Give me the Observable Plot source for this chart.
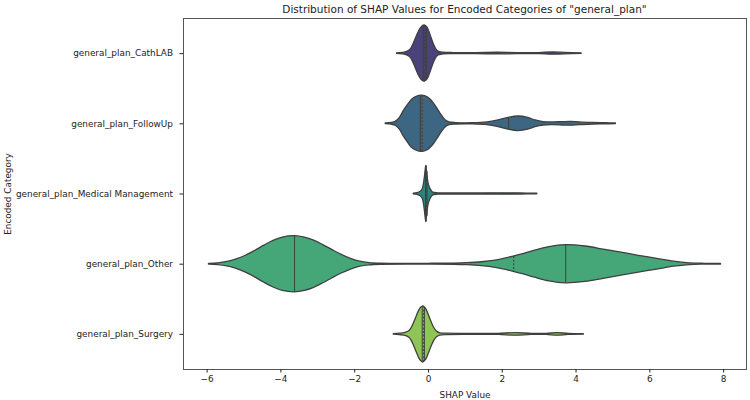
<!DOCTYPE html>
<html>
<head>
<meta charset="utf-8">
<script src="https://cdn.jsdelivr.net/npm/d3@7"></script>
<script src="https://cdn.jsdelivr.net/npm/@observablehq/plot@0.6"></script>
<style>
  body { margin: 0; background: #fff; font-family: "DejaVu Sans", sans-serif; }
  #title { height: 16px; line-height: 19px; margin-left: 183px; width: 563px; text-align: center;
           font-size: 10.5px; color: #222; white-space: nowrap; }
</style>
</head>
<body>
<div id="title">Distribution of SHAP Values for Encoded Categories of "general_plan"</div>
<div id="chart"></div>
<script>
// Encoded categories, top to bottom
const categories = [
  "general_plan_CathLAB",
  "general_plan_FollowUp",
  "general_plan_Medical Management",
  "general_plan_Other",
  "general_plan_Surgery"
];

// Kernel density profiles per category: [SHAP value, relative density (peak = 1)]
const densityCathLAB = [
  [-0.85,0.01],[-0.7,0.025],[-0.58,0.06],[-0.48,0.15],[-0.4,0.35],[-0.32,0.6],[-0.24,0.83],
  [-0.17,0.96],[-0.10,1.0],[-0.03,0.93],[0.04,0.72],[0.12,0.42],[0.2,0.18],[0.27,0.07],
  [0.4,0.03],[0.7,0.02],[1.3,0.02],[1.87,0.03],[2.4,0.02],[3.0,0.02],[3.37,0.04],[3.7,0.025],[4.15,0.01]
];
const densityFollowUp = [
  [-1.16,0.01],[-1.0,0.03],[-0.89,0.07],[-0.78,0.2],[-0.67,0.45],[-0.55,0.68],[-0.45,0.85],
  [-0.32,0.96],[-0.17,1.0],[-0.02,0.94],[0.15,0.72],[0.27,0.48],[0.37,0.28],[0.47,0.12],
  [0.57,0.05],[0.75,0.025],[1.2,0.02],[1.6,0.05],[1.9,0.12],[2.17,0.21],[2.44,0.26],[2.7,0.21],
  [2.9,0.12],[3.12,0.06],[3.4,0.05],[3.65,0.06],[3.86,0.065],[4.1,0.05],[4.45,0.03],[4.8,0.02],[5.08,0.01]
];
const densityMedical = [
  [-0.40,0.01],[-0.3,0.03],[-0.21,0.08],[-0.16,0.16],[-0.12,0.38],[-0.08,0.8],[-0.06,1.0],
  [-0.04,0.8],[0.0,0.4],[0.04,0.22],[0.09,0.1],[0.13,0.05],[0.25,0.025],[0.8,0.02],[1.5,0.02],
  [2.0,0.025],[2.5,0.02],[2.95,0.01]
];
const densityOther = [
  [-5.95,0.01],[-5.7,0.03],[-5.45,0.08],[-5.2,0.17],[-4.95,0.3],[-4.7,0.47],[-4.45,0.66],
  [-4.2,0.83],[-3.95,0.95],[-3.63,1.0],[-3.35,0.95],[-3.1,0.84],[-2.85,0.68],[-2.6,0.5],
  [-2.35,0.33],[-2.1,0.19],[-1.85,0.09],[-1.6,0.04],[-1.3,0.02],[0.0,0.015],[0.7,0.02],
  [1.04,0.035],[1.45,0.07],[1.82,0.13],[2.31,0.27],[2.6,0.37],[2.89,0.48],[3.28,0.61],
  [3.72,0.68],[4.26,0.63],[4.75,0.52],[5.23,0.41],[5.7,0.3],[6.2,0.19],[6.65,0.09],
  [7.08,0.03],[7.5,0.015],[7.93,0.01]
];
const densitySurgery = [
  [-0.94,0.01],[-0.78,0.025],[-0.6,0.06],[-0.5,0.14],[-0.42,0.32],[-0.34,0.57],[-0.26,0.82],
  [-0.2,0.95],[-0.14,1.0],[-0.07,0.92],[0.0,0.72],[0.08,0.45],[0.16,0.22],[0.24,0.09],
  [0.32,0.04],[0.5,0.025],[1.2,0.02],[1.9,0.02],[2.36,0.045],[2.8,0.02],[3.2,0.02],
  [3.5,0.045],[3.8,0.02],[4.21,0.01]
];

// Quartiles of the SHAP values per category
const q1     = [-0.14, -0.22, -0.08, -3.63, -0.17];
const median = [-0.10, -0.17, -0.06,  2.31, -0.14];
const q3     = [-0.06,  2.17, -0.04,  3.72, -0.11];

const xTicks = [-6, -4, -2, 0, 2, 4, 6, 8];

// Viridis palette (5 steps), desaturated like seaborn's violin fill
const fills = categories.map((_, i) => {
  const c = d3.hsl(d3.interpolateViridis((i + 1) / 6));
  c.s *= 0.75;
  return c.formatHex();
});

const profiles = [densityCathLAB, densityFollowUp, densityMedical, densityOther, densitySurgery];
const HALF = 0.4; // half of the violin width, in category units

const rows = profiles.flatMap((p, i) =>
  p.map(([x, d]) => ({cat: categories[i], i, x, d})));

// relative density at a given SHAP value (linear between profile points)
function densityAt(p, x) {
  for (let k = 1; k < p.length; k++) {
    if (x <= p[k][0]) {
      const [x0, d0] = p[k - 1], [x1, d1] = p[k];
      return d0 + (d1 - d0) * (x - x0) / (x1 - x0);
    }
  }
  return p[p.length - 1][1];
}
const quartRows = categories.flatMap((c, i) => [q1[i], q3[i]].map(x => ({i, x, w: densityAt(profiles[i], x)})));
const medRows = categories.map((c, i) => ({i, x: median[i], w: densityAt(profiles[i], median[i])}));

const edge = "#3f3f3f";
const fmt = v => String(v).replace("-", "\u2212");

const chart = Plot.plot({
  width: 750,
  height: 384,
  marginLeft: 183,
  marginRight: 4,
  marginTop: 2,
  marginBottom: 31,
  style: {fontFamily: "DejaVu Sans, sans-serif", fontSize: "8.9px", color: "#222", background: "#fff"},
  x: {domain: [-6.64, 8.62]},
  y: {domain: [4.5, -0.5]},
  color: {domain: categories, range: fills},
  marks: [
    Plot.areaY(rows, {
      x: "x",
      y1: d => d.i - d.d * HALF,
      y2: d => d.i + d.d * HALF,
      z: "cat",
      fill: "cat",
      stroke: edge,
      strokeWidth: 1.3,
      curve: "catmull-rom"
    }),
    Plot.ruleX(quartRows, {
      x: "x", y1: d => d.i - d.w * HALF, y2: d => d.i + d.w * HALF,
      stroke: edge, strokeWidth: 1
    }),
    Plot.ruleX(medRows, {
      x: "x", y1: d => d.i - d.w * HALF, y2: d => d.i + d.w * HALF,
      stroke: edge, strokeWidth: 1.1, strokeDasharray: "2,1.6"
    }),
    Plot.frame({stroke: "#555", strokeWidth: 1}),
    Plot.axisX({
      ticks: xTicks, tickFormat: fmt, tickSize: 3.5, tickPadding: 3,
      label: "SHAP Value", labelAnchor: "center", labelArrow: "none", labelOffset: 28
    }),
    Plot.axisY({
      ticks: [0, 1, 2, 3, 4], tickFormat: i => categories[i], tickSize: 3.5, tickPadding: 7,
      label: "Encoded Category", labelAnchor: "center", labelArrow: "none", labelOffset: 179
    })
  ]
});
document.getElementById("chart").appendChild(chart);
</script>
</body>
</html>
